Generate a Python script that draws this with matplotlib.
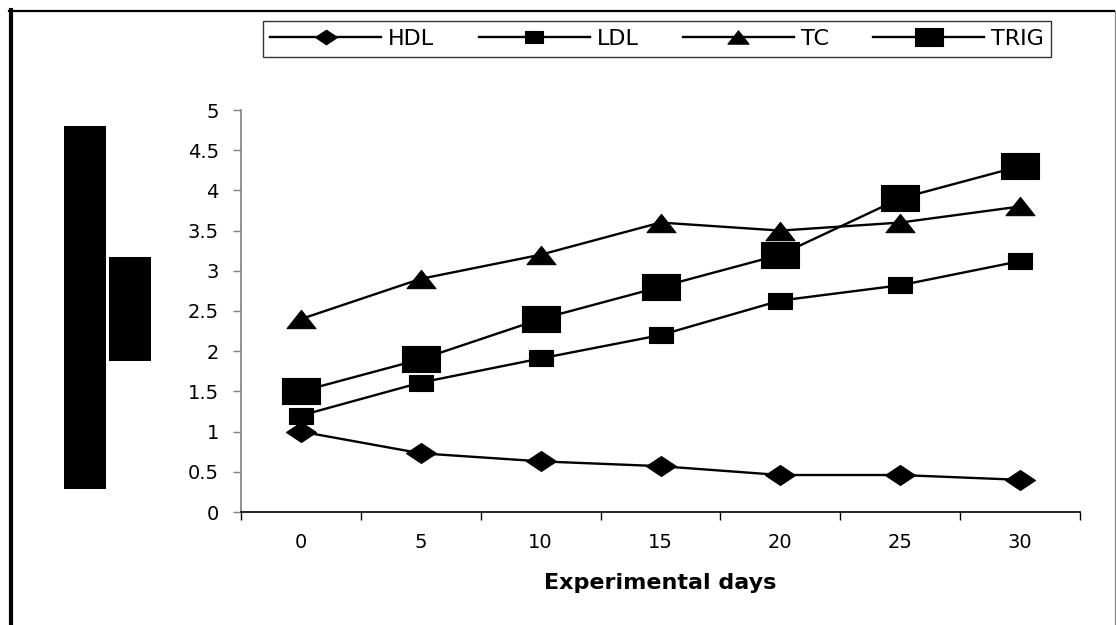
import matplotlib
matplotlib.use("Agg")
import matplotlib.pyplot as plt
from matplotlib.lines import Line2D
from matplotlib.patches import Rectangle
from matplotlib.path import Path

plt.rcParams['font.family'] = ['DejaVu Sans']

# ---- data ----
days = ["0", "5", "10", "15", "20", "25", "30"]
hdl = [1.0, 0.73, 0.63, 0.57, 0.46, 0.46, 0.40]
ldl = [1.2, 1.61, 1.91, 2.2, 2.63, 2.82, 3.12]
tc = [2.4, 2.9, 3.2, 3.6, 3.5, 3.6, 3.8]
trig = [1.5, 1.9, 2.4, 2.8, 3.2, 3.9, 4.3]
series_names = ["HDL", "LDL", "TC", "TRIG"]
y_ticks = [0, 0.5, 1, 1.5, 2, 2.5, 3, 3.5, 4, 4.5, 5]
x_label = "Experimental days"

W, H = 1116, 625
fig = plt.figure(figsize=(W / 100, H / 100), dpi=100)
fig.patch.set_facecolor("white")

def fx(px):
    return px / W

def fy(py):
    return 1 - py / H

ax = fig.add_axes([fx(241), fy(512), fx(1080) - fx(241), fy(110) - fy(512)])

# custom stretched markers
diamond = Path([(-1.5, 0), (0, 1), (1.5, 0), (0, -1), (-1.5, 0)], closed=True)
small_sq = Path([(-1.5, -1), (1.5, -1), (1.5, 1), (-1.5, 1), (-1.5, -1)], closed=True)
tri = Path([(-1.5, -0.95), (1.5, -0.95), (0, 0.95), (-1.5, -0.95)], closed=True)
big_sq = Path([(-1.5, -0.99), (1.5, -0.99), (1.5, 0.99), (-1.5, 0.99), (-1.5, -0.99)], closed=True)

x = list(range(len(days)))
styles = [
    (hdl, diamond, 21.6),
    (ldl, small_sq, 17.3),
    (tc, tri, 20.8),
    (trig, big_sq, 27.4),
]
for (vals, mk, ms), name in zip(styles, series_names):
    ax.plot(x, vals, color="black", linewidth=1.7, marker=mk, markersize=ms,
            markerfacecolor="black", markeredgecolor="black", markeredgewidth=0.8,
            label=name, solid_joinstyle="round")

ax.set_xlim(-0.5, len(days) - 0.5)
ax.set_ylim(0, 5)
ax.set_yticks(y_ticks)
ax.set_yticklabels([("%g" % v) for v in y_ticks])

ax.set_xticks(x)
ax.set_xticklabels(days)
ax.set_xticks([i - 0.5 for i in range(len(days) + 1)], minor=True)
ax.tick_params(axis="x", which="major", length=0, pad=15, labelsize=14)
ax.tick_params(axis="x", which="minor", length=5.5, width=1, color="black", direction="out")
ax.tick_params(axis="y", which="major", length=6, width=1, color="#808080", pad=10,
               labelsize=14, direction="out")

for s in ["top", "right"]:
    ax.spines[s].set_visible(False)
ax.spines["left"].set_color("#808080")
ax.spines["left"].set_linewidth(1.2)
ax.spines["bottom"].set_color("black")
ax.spines["bottom"].set_linewidth(1.2)

ax.set_xlabel(x_label, fontsize=16, fontweight="bold")
ax.xaxis.set_label_coords(0.5, -0.176)
ax.xaxis.label.set_verticalalignment("center")

# legend
leg = fig.legend(loc="center", bbox_to_anchor=(fx(657), fy(39)), ncol=4,
                 fontsize=16, frameon=True, fancybox=False, edgecolor="black",
                 handlelength=5.0, handletextpad=0.3, columnspacing=2.0,
                 markerscale=0.73, borderpad=0.35)
leg.get_frame().set_linewidth(1.0)

# outer frame
fig.add_artist(Line2D([fx(10.5), fx(10.5)], [fy(10), fy(625)], transform=fig.transFigure,
                      color="black", linewidth=3.0))
fig.add_artist(Line2D([fx(9), fx(1114)], [fy(11), fy(11)], transform=fig.transFigure,
                      color="black", linewidth=1.6))
fig.add_artist(Line2D([fx(1114.5), fx(1114.5)], [fy(11), fy(625)], transform=fig.transFigure,
                      color="#808080", linewidth=0.9))

# redacted y-axis label blocks
fig.add_artist(Rectangle((fx(64), fy(489)), fx(106) - fx(64), fy(126) - fy(489),
                         transform=fig.transFigure, facecolor="black", edgecolor="none"))
fig.add_artist(Rectangle((fx(109), fy(361)), fx(151) - fx(109), fy(257) - fy(361),
                         transform=fig.transFigure, facecolor="black", edgecolor="none"))

fig.savefig("out.png", dpi=100, facecolor="white")
